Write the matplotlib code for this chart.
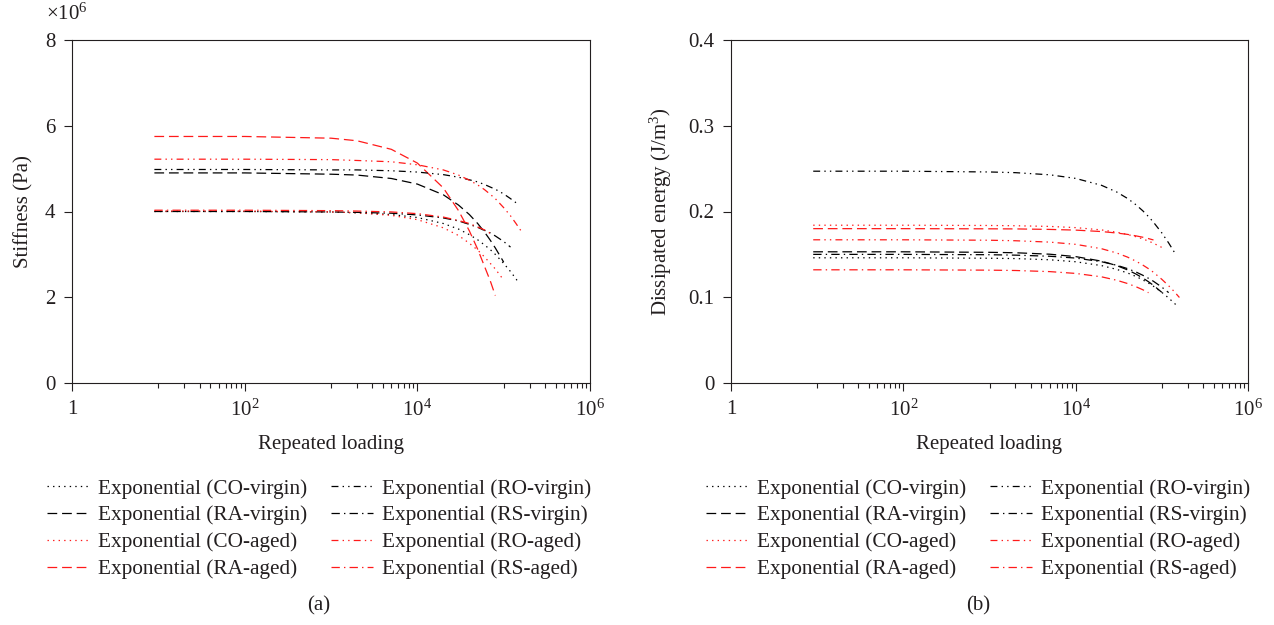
import numpy as np
import matplotlib
matplotlib.use('Agg')
import matplotlib.pyplot as plt
from matplotlib.ticker import FixedLocator, FuncFormatter, NullFormatter
from matplotlib.lines import Line2D

plt.rcParams['font.family'] = ['Liberation Serif', 'DejaVu Serif']
plt.rcParams['mathtext.fontset'] = 'custom'
plt.rcParams['mathtext.rm'] = 'Liberation Serif'
plt.rcParams['mathtext.it'] = 'Liberation Serif:italic'
plt.rcParams['mathtext.bf'] = 'Liberation Serif:bold'
plt.rcParams['lines.scale_dashes'] = False

TXT = '#231f20'

# Repeated loading (cycles) at which trend values were read
N = [9, 100, 1000, 2000, 5000, 1e4, 2e4, 3e4, 4e4, 5e4, 6e4, 7e4, 8e4, 1e5, 1.2e5, 1.4e5, 1.5e5, 1.6e5]

labels = ['Exponential (CO-virgin)', 'Exponential (RA-virgin)', 'Exponential (CO-aged)',
          'Exponential (RA-aged)', 'Exponential (RO-virgin)', 'Exponential (RS-virgin)',
          'Exponential (RO-aged)', 'Exponential (RS-aged)']

# Stiffness (x10^6 Pa)
stiff_co_virgin = [4.00, 4.00, 3.99, 3.97, 3.93, 3.86, 3.72, 3.59, 3.46, 3.34, 3.22, 3.11, 3.00, 2.79, 2.60, 2.42, 2.32]
stiff_ra_virgin = [4.90, 4.90, 4.87, 4.85, 4.77, 4.64, 4.39, 4.15, 3.93, 3.72, 3.52, 3.33, 3.15, 2.82]
stiff_co_aged = [4.01, 4.01, 3.99, 3.97, 3.91, 3.81, 3.62, 3.44, 3.26, 3.10, 2.94, 2.79, 2.66, 2.40]
stiff_ra_aged = [5.75, 5.75, 5.71, 5.65, 5.45, 5.13, 4.55, 4.02, 3.55, 3.12, 2.72, 2.38, 2.04]
stiff_ro_virgin = [4.98, 4.98, 4.97, 4.97, 4.95, 4.92, 4.86, 4.80, 4.74, 4.69, 4.63, 4.57, 4.52, 4.41, 4.30, 4.20]
stiff_rs_virgin = [4.00, 4.00, 3.99, 3.98, 3.96, 3.92, 3.85, 3.78, 3.70, 3.63, 3.56, 3.50, 3.43, 3.30, 3.17]
stiff_ro_aged = [5.22, 5.22, 5.21, 5.19, 5.16, 5.09, 4.97, 4.85, 4.73, 4.62, 4.51, 4.40, 4.30, 4.09, 3.90, 3.71, 3.62, 3.54]
stiff_rs_aged = [4.03, 4.03, 4.02, 4.01, 3.99, 3.95, 3.87, 3.79, 3.72, 3.64, 3.57, 3.49]

# Dissipated energy (J/m^3)
energy_co_virgin = [0.146, 0.146, 0.1455, 0.1451, 0.1437, 0.1414, 0.1369, 0.1325, 0.1283, 0.1243, 0.1203, 0.1165, 0.1128, 0.1057, 0.0991, 0.0929, 0.0900]
energy_ra_virgin = [0.153, 0.153, 0.1524, 0.1519, 0.1502, 0.1474, 0.1421, 0.1369, 0.1319, 0.1271, 0.1225, 0.1181, 0.1138, 0.1057]
energy_co_aged = [0.184, 0.184, 0.1837, 0.1834, 0.1826, 0.1812, 0.1785, 0.1758, 0.1732, 0.1706, 0.1680, 0.1655, 0.1630, 0.1581]
energy_ra_aged = [0.180, 0.180, 0.1798, 0.1797, 0.1791, 0.1783, 0.1766, 0.1749, 0.1733, 0.1716, 0.1700, 0.1684, 0.1668]
energy_ro_virgin = [0.247, 0.247, 0.2461, 0.2453, 0.2428, 0.2386, 0.2305, 0.2227, 0.2152, 0.2079, 0.2009, 0.1941, 0.1875, 0.1750, 0.1633, 0.1524]
energy_rs_virgin = [0.150, 0.150, 0.1496, 0.1491, 0.1478, 0.1457, 0.1414, 0.1373, 0.1334, 0.1295, 0.1257, 0.1221, 0.1186, 0.1118, 0.1054]
energy_ro_aged = [0.167, 0.167, 0.1665, 0.1659, 0.1643, 0.1617, 0.1566, 0.1516, 0.1468, 0.1421, 0.1376, 0.1333, 0.1291, 0.1209, 0.1134, 0.1064, 0.1029, 0.0997]
energy_rs_aged = [0.132, 0.132, 0.1316, 0.1312, 0.1299, 0.1278, 0.1238, 0.1198, 0.1160, 0.1123, 0.1088, 0.1053]

stiff_series = [stiff_co_virgin, stiff_ra_virgin, stiff_co_aged, stiff_ra_aged,
                stiff_ro_virgin, stiff_rs_virgin, stiff_ro_aged, stiff_rs_aged]
energy_series = [energy_co_virgin, energy_ra_virgin, energy_co_aged, energy_ra_aged,
                 energy_ro_virgin, energy_rs_virgin, energy_ro_aged, energy_rs_aged]

BLACK = '#000000'
RED = '#ff1a1a'
DOT = (0, (1.0, 3.0))
DASH = (0, (7.0, 3.5))
DDOT = (0, (5.0, 3.0, 1.0, 3.0, 1.0, 3.0))
DDASH = (0, (6.0, 3.0, 1.0, 3.0))
colors = [BLACK, BLACK, RED, RED, BLACK, BLACK, RED, RED]
styles = [DOT, DASH, DOT, DASH, DDOT, DDASH, DDOT, DDASH]
LW = 0.9
FS = 15

W, H = 1274, 625
fig = plt.figure(figsize=(W / 100, H / 100), dpi=100)
axL = fig.add_axes([72 / W, 1 - 383 / H, 518 / W, 343 / H])
axR = fig.add_axes([731 / W, 1 - 383 / H, 517 / W, 343 / H])

minor_ticks = [k * 10.0 ** e for e in (1, 3, 5) for k in range(1, 10)]

def style_axis(ax):
    ax.set_xscale('log')
    ax.set_xlim(1, 1e6)
    ax.xaxis.set_major_locator(FixedLocator([1, 1e2, 1e4, 1e6]))
    ax.xaxis.set_minor_locator(FixedLocator(minor_ticks))
    ax.xaxis.set_major_formatter(FuncFormatter(
        lambda v, p: '1' if v == 1 else r'$10^{%d}$' % round(np.log10(v))))
    ax.xaxis.set_minor_formatter(NullFormatter())
    ax.tick_params(which='major', direction='out', length=6, width=0.8,
                   labelsize=FS, colors=TXT, labelcolor=TXT, pad=6)
    ax.tick_params(which='minor', direction='out', length=3.5, width=0.8, colors=TXT)
    ax.tick_params(top=False, right=False, which='both')
    for s in ax.spines.values():
        s.set_linewidth(0.8)
        s.set_color(TXT)
    ax.set_xlabel('Repeated loading', fontsize=FS, color=TXT, labelpad=10)

for ax, series, scale in ((axL, stiff_series, 1e6), (axR, energy_series, 1.0)):
    for y, c, ls in zip(series, colors, styles):
        ax.plot(N[:len(y)], np.array(y) * scale, color=c, linestyle=ls, linewidth=LW)
    style_axis(ax)

axL.set_ylim(0, 8e6)
axL.yaxis.set_major_locator(FixedLocator([0, 2e6, 4e6, 6e6, 8e6]))
axL.yaxis.set_major_formatter(FuncFormatter(lambda v, p: '%d' % round(v / 1e6)))
axL.set_ylabel('Stiffness (Pa)', fontsize=FS, color=TXT, labelpad=8)
fig.text(46 / W, 1 - 14 / H, '×10$^6$', ha='left', va='center', fontsize=FS, color=TXT)

axR.set_ylim(0, 0.4)
axR.yaxis.set_major_locator(FixedLocator([0, 0.1, 0.2, 0.3, 0.4]))
axR.yaxis.set_major_formatter(FuncFormatter(lambda v, p: '0' if abs(v) < 1e-9 else '%.1f' % v))
axR.set_ylabel(r'Dissipated energy (J/m$^3$)', fontsize=FS, color=TXT, labelpad=10)

handles = [Line2D([], [], color=c, linestyle=ls, linewidth=LW) for c, ls in zip(colors, styles)]
for cx in (319 / W, 978 / W):
    leg = fig.legend(handles, labels, loc='center', bbox_to_anchor=(cx, 1 - 529 / H),
                     ncol=2, frameon=False, fontsize=15.3, handlelength=2.0,
                     handletextpad=0.4, columnspacing=1.1, labelspacing=0.33)
    for t in leg.get_texts():
        t.set_color(TXT)

fig.text(319 / W, 1 - 606 / H, '(a)', ha='center', va='center', fontsize=FS, color=TXT)
fig.text(978 / W, 1 - 606 / H, '(b)', ha='center', va='center', fontsize=FS, color=TXT)

fig.savefig('out.png', dpi=100)
